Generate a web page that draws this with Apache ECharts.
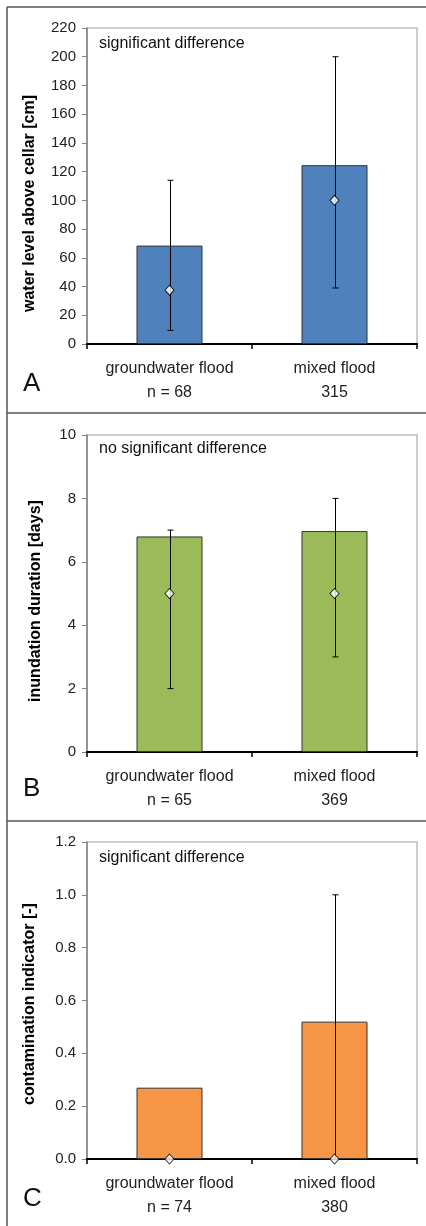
<!DOCTYPE html>
<html>
<head>
<meta charset="utf-8">
<script src="https://cdn.jsdelivr.net/npm/echarts@6/dist/echarts.min.js"></script>
<style>
html,body{margin:0;padding:0;background:#fff;}
#chart{width:426px;height:1226px;}
</style>
</head>
<body>
<div id="chart"></div>
<script>
// ---- data ----
const categories = ['groundwater flood', 'mixed flood'];

const countsA = ['n = 68', '315'];
const meanA = [68.5, 124.5];
const medianA = [37.5, 100];
const lowA = [9.5, 39];
const highA = [114, 200];

const countsB = ['n = 65', '369'];
const meanB = [6.8, 6.97];
const medianB = [5, 5];
const lowB = [2, 3];
const highB = [7, 8];

const countsC = ['n = 74', '380'];
const meanC = [0.27, 0.52];
const medianC = [0, 0];
const lowC = [0, 0];
const highC = [0, 1.0];

const yTitles = ['water level above cellar [cm]', 'inundation duration [days]', 'contamination indicator [-]'];
const notes = ['significant difference', 'no significant difference', 'significant difference'];
const letters = ['A', 'B', 'C'];
const yMax = [220, 10, 1.2];
const yStep = [20, 2, 0.2];
const colors = ['#4f81bd', '#9bbb59', '#f79646'];

// ---- layout ----
const FONT = '"Liberation Sans", Arial, sans-serif';
const gridTops = [28, 435, 842];
const gridHeights = [316, 317, 317];
const notesY = [44.5, 450, 859];
const lettersY = [386, 791, 1201];
const titleX = [29.5, 36, 29.5];
const titleY = [203.5, 601, 1004];

const panels = [
  {counts: countsA, mean: meanA, median: medianA, low: lowA, high: highA},
  {counts: countsB, mean: meanB, median: medianB, low: lowB, high: highB},
  {counts: countsC, mean: meanC, median: medianC, low: lowC, high: highC}
];

function renderErr(params, api) {
  const x = api.value(0);
  const lo = api.coord([x, api.value(1)]);
  const hi = api.coord([x, api.value(2)]);
  const cx = Math.round(lo[0]) + 0.5;
  const w = 3;
  const st = {stroke: '#000', lineWidth: 1};
  return {
    type: 'group',
    children: [
      {type: 'line', shape: {x1: cx, y1: lo[1], x2: cx, y2: hi[1]}, style: st},
      {type: 'line', shape: {x1: cx - w, y1: lo[1], x2: cx + w, y2: lo[1]}, style: st},
      {type: 'line', shape: {x1: cx - w, y1: hi[1], x2: cx + w, y2: hi[1]}, style: st}
    ]
  };
}

const grid = [], xAxis = [], yAxis = [], series = [], graphic = [];

panels.forEach((p, i) => {
  grid.push({
    left: 87, top: gridTops[i], width: 330, height: gridHeights[i],
    show: true, borderColor: '#bdbdbd', borderWidth: 1.5, backgroundColor: 'transparent'
  });
  xAxis.push({
    type: 'category', gridIndex: i,
    data: categories.map((c, k) => c + '\n' + p.counts[k]),
    axisLine: {lineStyle: {color: '#000', width: 2}},
    axisTick: {show: true, length: 5, lineStyle: {color: '#000', width: 1.5}},
    axisLabel: {color: '#222', fontSize: 16, fontFamily: FONT, lineHeight: 24, margin: 13, interval: 0},
    splitLine: {show: false}
  });
  yAxis.push({
    type: 'value', gridIndex: i, min: 0, max: yMax[i], interval: yStep[i],
    axisLine: {show: true, lineStyle: {color: '#808080', width: 1.5}},
    axisTick: {show: true, length: 5, lineStyle: {color: '#808080', width: 1}},
    axisLabel: {
      color: '#222', fontSize: 15, fontFamily: FONT, margin: 11,
      formatter: (v) => i === 2 ? v.toFixed(1) : String(Math.round(v))
    },
    splitLine: {show: false}
  });
  series.push({
    type: 'bar', xAxisIndex: i, yAxisIndex: i, data: p.mean, barWidth: '40%',
    itemStyle: {color: colors[i], borderColor: '#333', borderWidth: 1},
    z: 2, silent: true
  });
  series.push({
    type: 'custom', xAxisIndex: i, yAxisIndex: i,
    data: categories.map((c, k) => [k, p.low[k], p.high[k]]),
    renderItem: renderErr, z: 3, silent: true
  });
  series.push({
    type: 'scatter', xAxisIndex: i, yAxisIndex: i,
    data: categories.map((c, k) => [k, p.median[k]]),
    symbol: 'diamond', symbolSize: [9, 10],
    itemStyle: {color: '#fff', borderColor: '#000', borderWidth: 1},
    z: 4, silent: true
  });
  graphic.push({
    type: 'text', left: 99, top: notesY[i] - 9,
    style: {text: notes[i], fill: '#111', font: '16px ' + FONT}
  });
  graphic.push({
    type: 'text', left: 23, top: lettersY[i] - 15,
    style: {text: letters[i], fill: '#111', font: '26px ' + FONT}
  });
  graphic.push({
    type: 'text', x: titleX[i], y: titleY[i], rotation: Math.PI / 2,
    style: {
      text: yTitles[i], fill: '#000', font: 'bold 16px ' + FONT,
      align: 'center', verticalAlign: 'middle',
      textAlign: 'center', textVerticalAlign: 'middle'
    }
  });
});

// panel frame lines
const frame = [
  {x1: 7, y1: 7, x2: 426, y2: 7},
  {x1: 7, y1: 7, x2: 7, y2: 1226},
  {x1: 7, y1: 413, x2: 426, y2: 413},
  {x1: 7, y1: 821, x2: 426, y2: 821}
];
frame.forEach(s => graphic.push({type: 'line', shape: s, style: {stroke: '#555', lineWidth: 1.5}, silent: true}));

const chart = echarts.init(document.getElementById('chart'), null, {renderer: 'canvas'});
chart.setOption({
  animation: false,
  backgroundColor: '#fff',
  grid, xAxis, yAxis, series, graphic
});
</script>
</body>
</html>
